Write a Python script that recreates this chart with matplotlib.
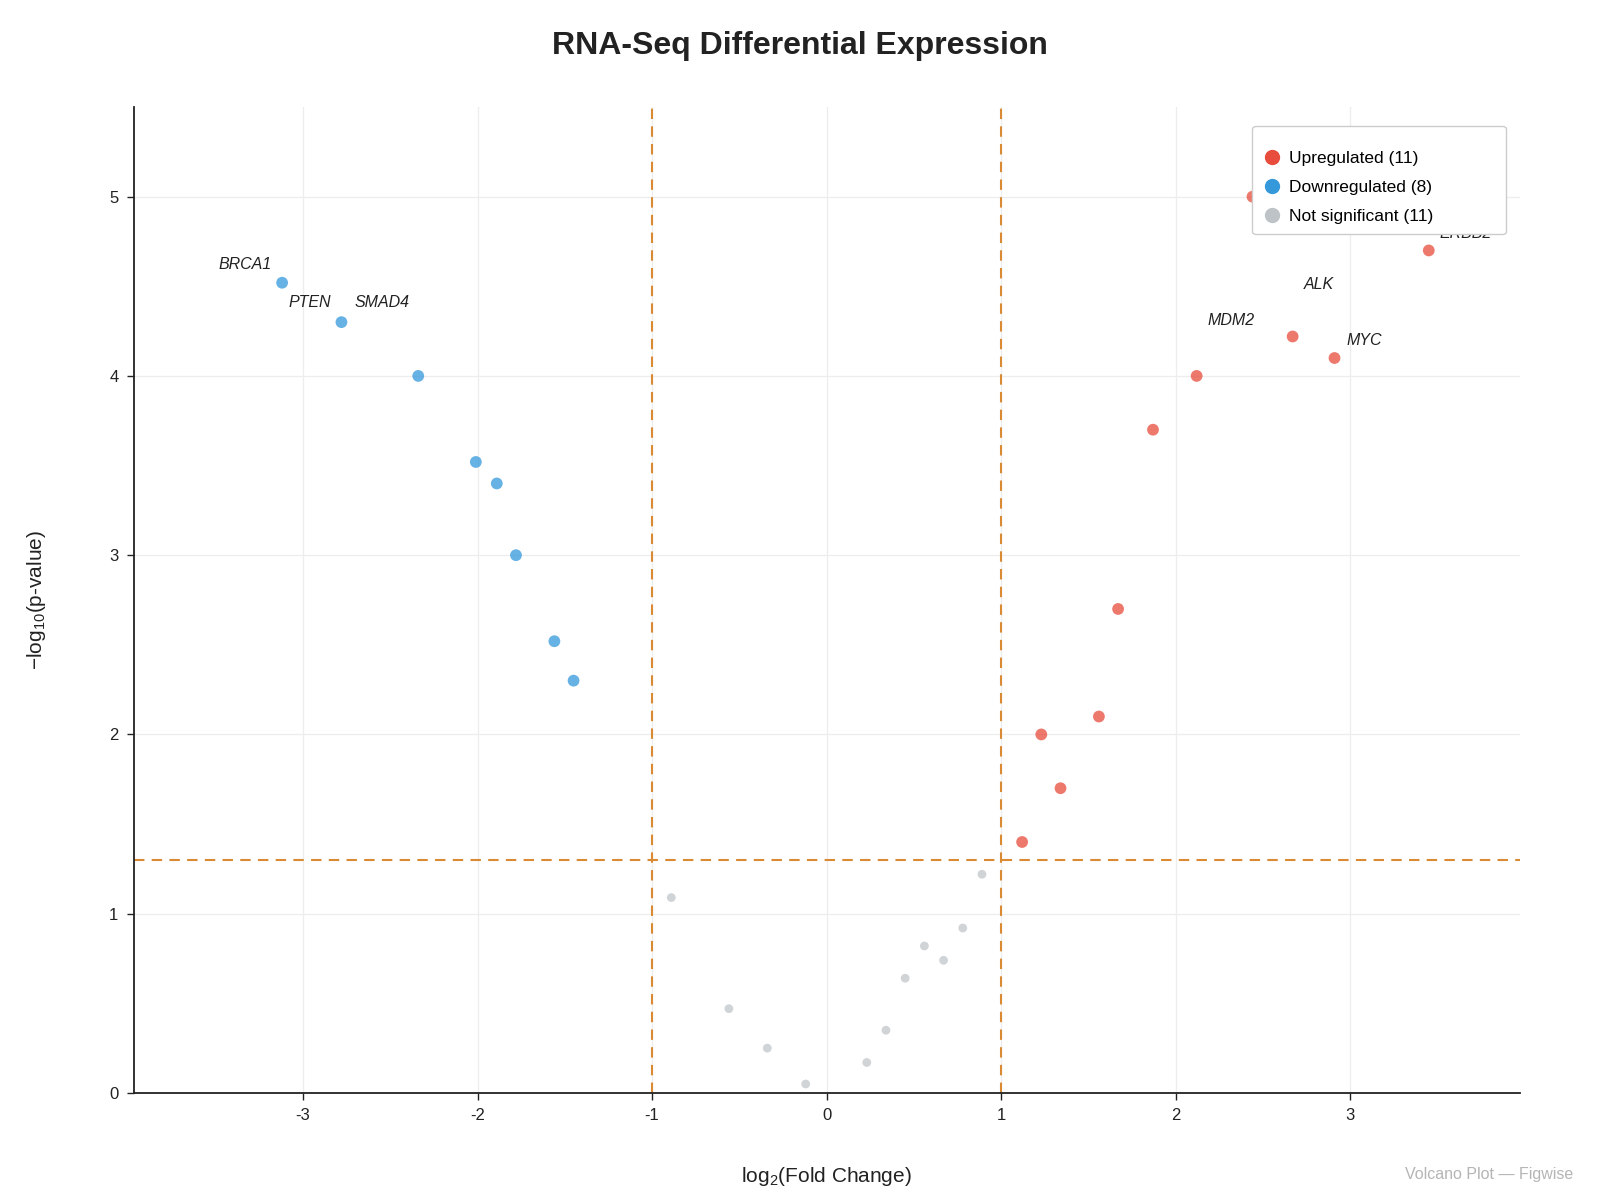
import matplotlib
matplotlib.use("Agg")
import matplotlib.pyplot as plt
from matplotlib.lines import Line2D

plt.rcParams['font.family'] = ['Liberation Sans', 'DejaVu Sans']
plt.rcParams['mathtext.default'] = 'regular'
plt.rcParams['axes.unicode_minus'] = False

# upregulated genes (log2 fold change, -log10 p)
up_genes = ["", "", "", "", "", "", "", "MDM2", "MYC", "ERBB2", "EGFR"]
up_fc = [1.12, 1.34, 1.23, 1.56, 1.67, 1.87, 2.12, 2.67, 2.91, 3.45, 2.44]
up_p = [1.40, 1.70, 2.00, 2.10, 2.70, 3.70, 4.00, 4.22, 4.10, 4.70, 5.00]

# downregulated genes
down_genes = ["BRCA1", "PTEN", "SMAD4", "", "", "", "", ""]
down_fc = [-3.12, -2.78, -2.34, -2.01, -1.89, -1.78, -1.56, -1.45]
down_p = [4.52, 4.30, 4.00, 3.52, 3.40, 3.00, 2.52, 2.30]

# not significant
ns_fc = [-0.89, -0.56, -0.34, -0.12, 0.23, 0.34, 0.45, 0.56, 0.67, 0.78, 0.89]
ns_p = [1.09, 0.47, 0.25, 0.05, 0.17, 0.35, 0.64, 0.82, 0.74, 0.92, 1.22]

# where the gene labels sit (text centre, data coords)
label_pos = {
    "BRCA1": (-3.33, 4.62),
    "PTEN": (-2.96, 4.41),
    "SMAD4": (-2.55, 4.41),
    "MDM2": (2.32, 4.31),
    "ALK": (2.82, 4.51),
    "MYC": (3.08, 4.20),
    "ERBB2": (3.66, 4.795),
}

RED = '#e74c3c'
BLUE = '#3498db'
GREY = '#bdc3c7'
ORANGE = '#d98a33'

fig = plt.figure(figsize=(16, 12), dpi=100)
ax = fig.add_axes([0.0836, 0.0892, 0.8661, 0.8216])

ax.scatter(ns_fc, ns_p, s=40, color=GREY, alpha=0.7, edgecolors='none', zorder=3)
ax.scatter(up_fc, up_p, s=72, color=RED, alpha=0.75, edgecolors='none', zorder=3)
ax.scatter(down_fc, down_p, s=72, color=BLUE, alpha=0.75, edgecolors='none', zorder=3)

ax.axhline(1.3, color=ORANGE, ls=(0, (5, 3.5)), lw=1.5, zorder=2)
ax.axvline(-1, color=ORANGE, ls=(0, (5, 3.5)), lw=1.5, zorder=2)
ax.axvline(1, color=ORANGE, ls=(0, (5, 3.5)), lw=1.5, zorder=2)

for name, (tx, ty) in label_pos.items():
    ax.text(tx, ty, name, fontsize=11.5, style='italic', color='#222222',
            ha='center', va='center', zorder=4)

ax.set_xlim(-3.97, 3.97)
ax.set_ylim(0, 5.5)
ax.set_xticks([-3, -2, -1, 0, 1, 2, 3])
ax.set_yticks([0, 1, 2, 3, 4, 5])
ax.tick_params(labelsize=12, colors='#222222', length=5, width=1, pad=6)
ax.grid(True, color='#ededed', lw=0.9, zorder=0)
ax.set_axisbelow(True)
for side in ['top', 'right']:
    ax.spines[side].set_visible(False)
for side in ['left', 'bottom']:
    ax.spines[side].set_color('#222222')
    ax.spines[side].set_linewidth(1.3)

ax.set_xlabel('log$_{2}$(Fold Change)', fontsize=15, color='#222222', labelpad=30)
ax.set_ylabel('\u2212log$_{10}$(p-value)', fontsize=15, color='#222222', labelpad=44)

fig.text(0.5, 0.962, 'RNA-Seq Differential Expression', ha='center', va='center',
         fontsize=23, fontweight='bold', color='#222222')
fig.text(0.983, 0.021, 'Volcano Plot \u2014 Figwise', ha='right', va='center',
         fontsize=11.5, color='#b5b5b5')

handles = [
    Line2D([], [], marker='o', ls='none', markersize=10, color=RED, label=f'Upregulated ({len(up_fc)})'),
    Line2D([], [], marker='o', ls='none', markersize=10, color=BLUE, label=f'Downregulated ({len(down_fc)})'),
    Line2D([], [], marker='o', ls='none', markersize=10, color=GREY, label=f'Not significant ({len(ns_fc)})'),
]
# legend box stretched to the width seen in the reference
leg = ax.legend(handles=handles, loc='upper left', bbox_to_anchor=(0.807, 0.5, 0.183, 0.481),
                mode='expand', borderaxespad=0, fontsize=12.5, frameon=True, fancybox=True,
                borderpad=0.55, labelspacing=0.82, handletextpad=0.4, handlelength=1.2,
                title=' ', title_fontsize=1)
leg.get_frame().set_edgecolor('#cccccc')
leg.get_frame().set_linewidth(1.0)
leg.get_frame().set_alpha(1.0)
leg.set_zorder(10)

fig.savefig('out.png', dpi=100)
